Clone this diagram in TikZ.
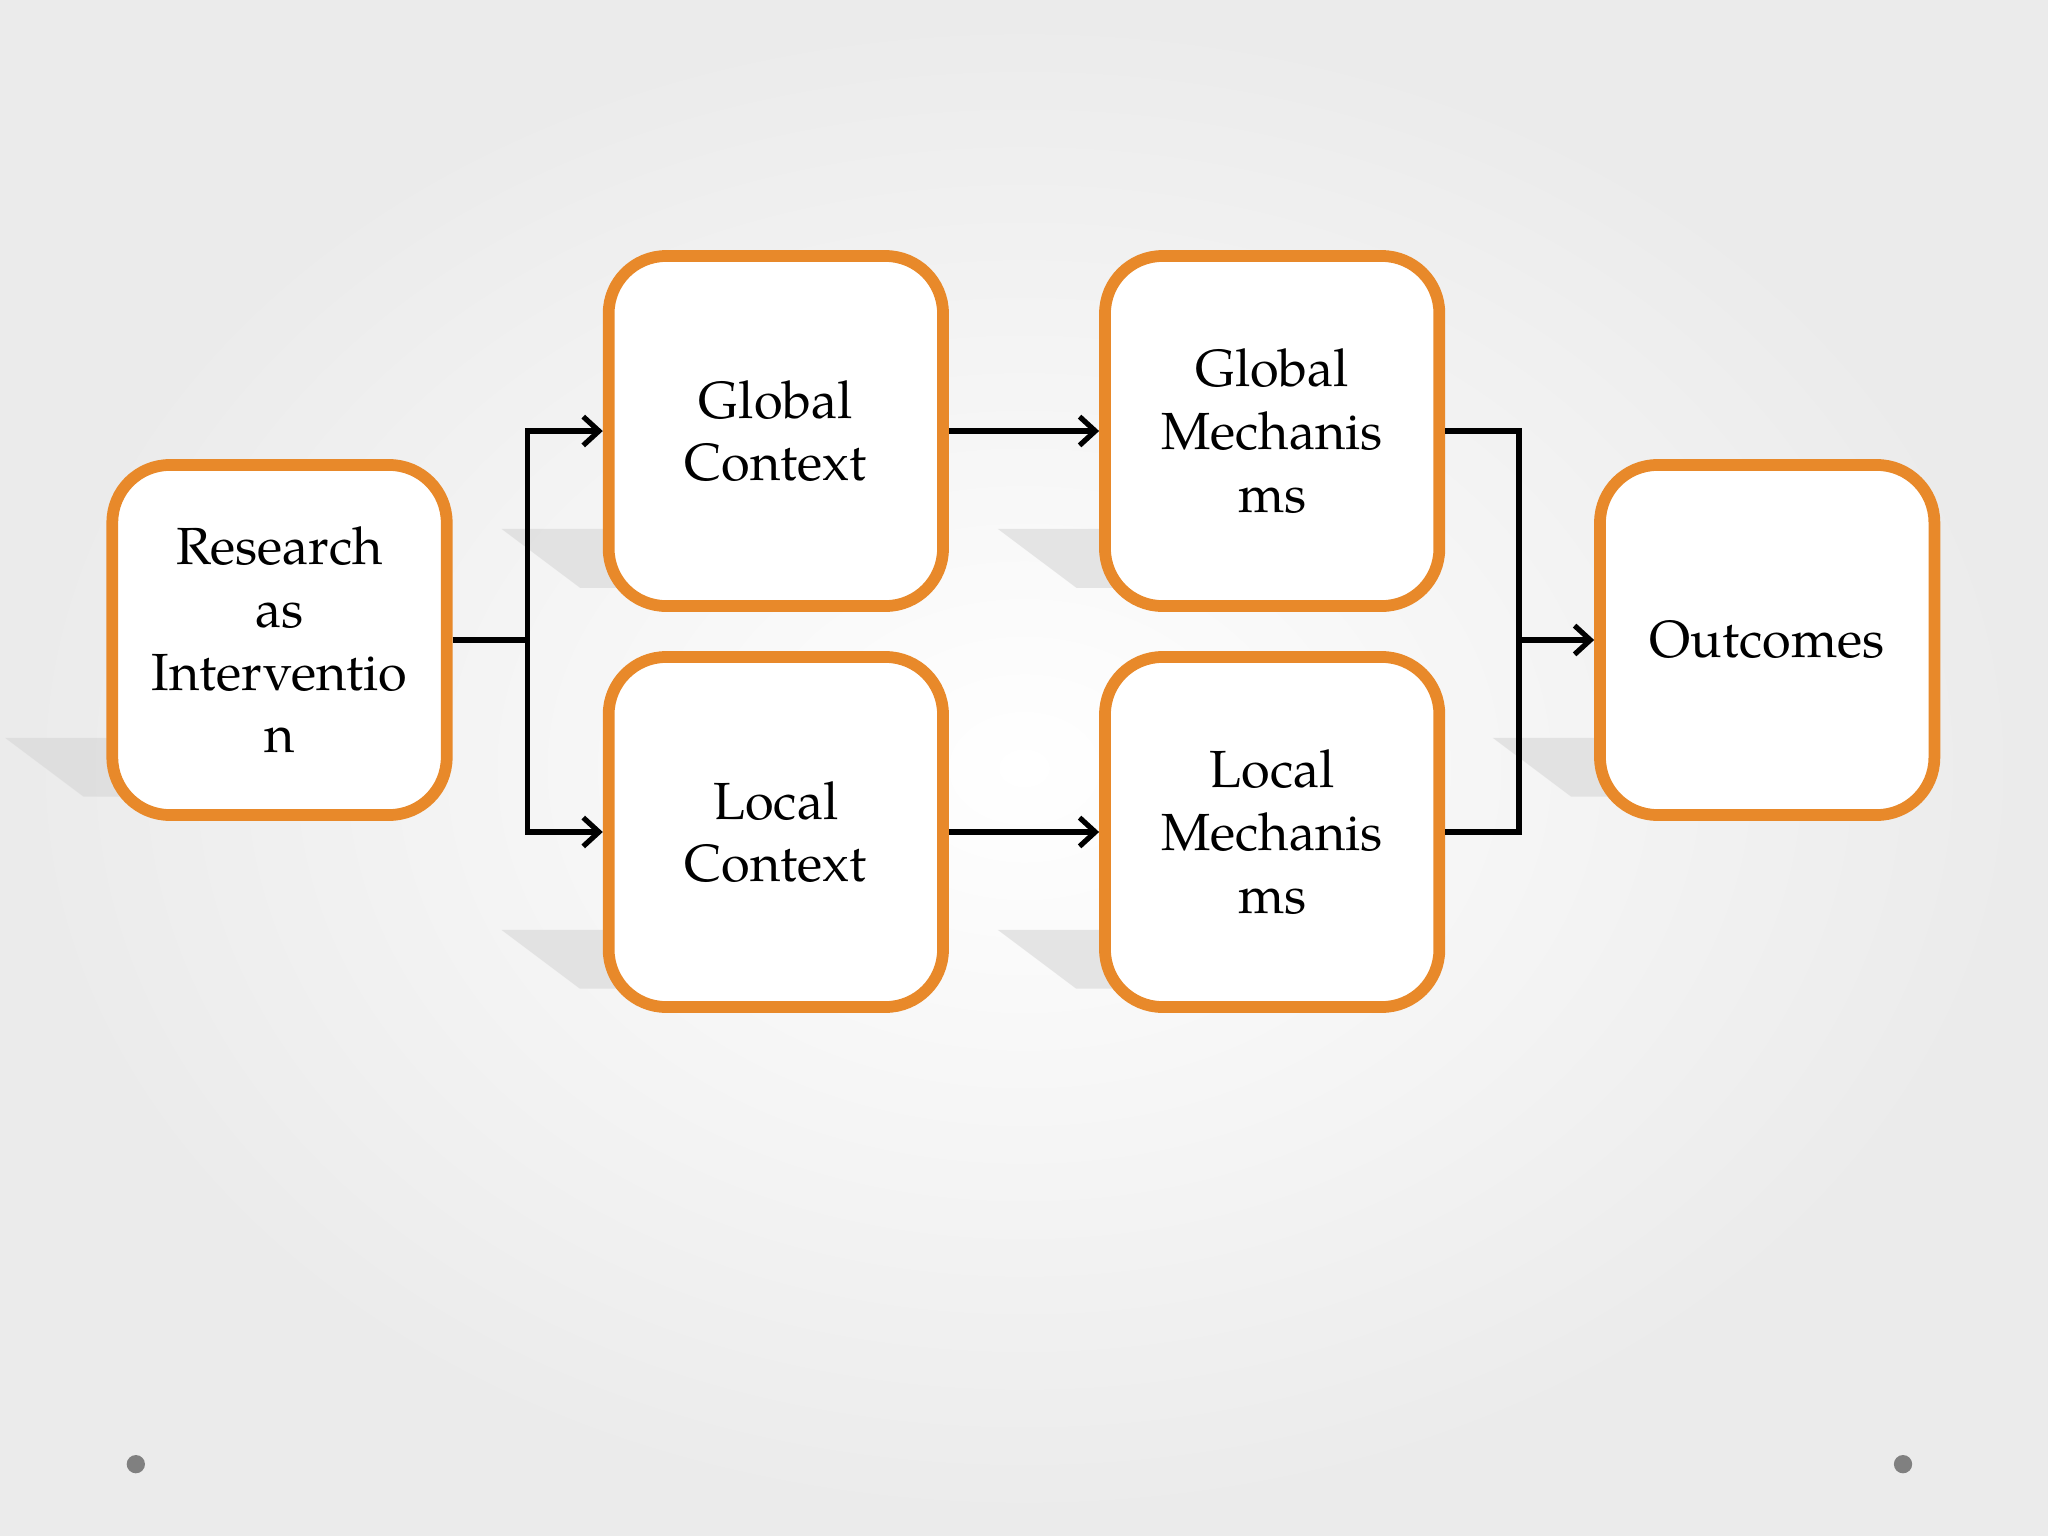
\documentclass[tikz,border=0pt]{standalone}
\usepackage{fontspec}
\setmainfont{TeX Gyre Pagella}
\usetikzlibrary{arrows.meta,positioning}
\definecolor{orng}{HTML}{E8892A}
\begin{document}
\begin{tikzpicture}[x=0.5pt,y=-0.5pt,
 box/.style={draw=orng,line width=4.5pt,rounded corners=22pt,fill=white,minimum width=128pt,minimum height=134pt,align=center,font=\fontsize{20}{24}\selectfont},
 con/.style={line width=2pt,-{Straight Barb[length=6pt,width=11pt,line width=2pt]}},
 ln/.style={line width=2pt}]
\useasboundingbox (0,0) rectangle (1568,1176);
\fill[white] (0,0) rectangle (1568,1176);
\shade[inner color=white,outer color=black!8] (0,0) rectangle (1568,1176);
\foreach \x/\y in {214/490,594/330,594/637,974/330,974/637,1353/490}
 \fill[black!16,opacity=0.6] (\x-210,\y+75) -- (\x-90,\y+75) -- (\x-30,\y+120) -- (\x-150,\y+120) -- cycle;
\node[box] (r) at (214,490) {Research\\as\\Interventio\\n};
\node[box] (gc) at (594,330) {Global\\Context};
\node[box] (lc) at (594,637) {Local\\Context};
\node[box] (gm) at (974,330) {Global\\Mechanis\\ms};
\node[box] (lm) at (974,637) {Local\\Mechanis\\ms};
\node[box] (o) at (1353,490) {Outcomes};
\coordinate (s) at (404,490);
\coordinate (m) at (1163,490);
\draw[ln] (r.east) -- (s);
\draw[con] (s) |- (gc.west);
\draw[con] (s) |- (lc.west);
\draw[con] (gc) -- (gm);
\draw[con] (lc) -- (lm);
\draw[ln] (gm.east) -| (m);
\draw[ln] (lm.east) -| (m);
\draw[con] (m) -- (o);
\fill[black!50] (104,1121) circle (7) (1457,1121) circle (7);
\end{tikzpicture}
\end{document}
